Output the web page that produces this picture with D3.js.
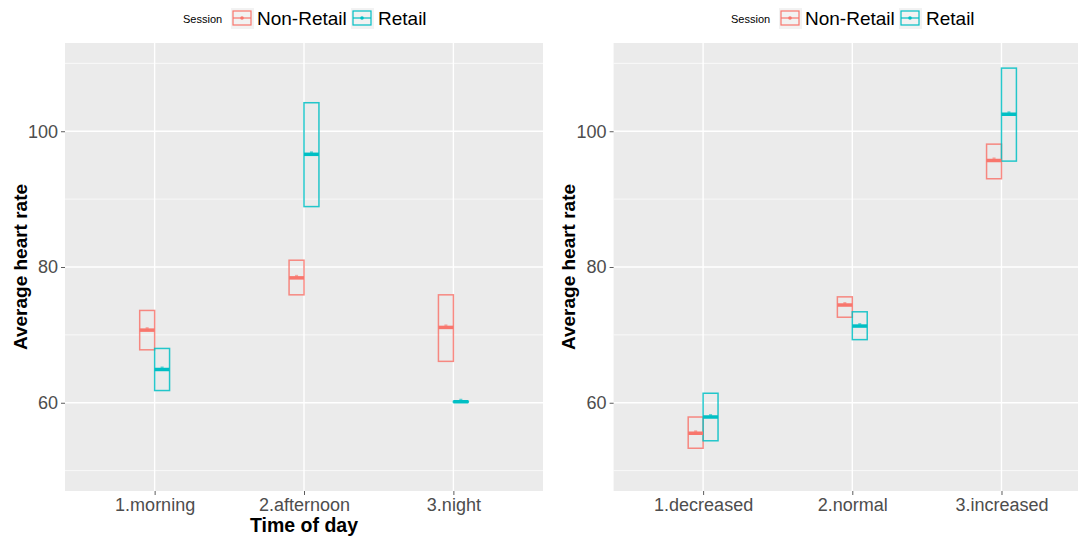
<!DOCTYPE html>
<html>
<head>
<meta charset="utf-8">
<script src="https://cdn.jsdelivr.net/npm/d3@7"></script>
<style>
  html, body { margin: 0; padding: 0; background: #fff; }
  svg { display: block; font-family: "Liberation Sans", Arial, sans-serif; }
</style>
</head>
<body>
<svg id="chart" width="1078" height="539"></svg>
<script>
// ---- data: mean heart rate with lower/upper interval per group ----
const sessions = ["Non-Retail", "Retail"];
const sessionColors = ["#F8766D", "#00BFC4"];

const periods = ["1.morning", "2.afternoon", "3.night"];
const periodNonRetailMean  = [70.7, 78.4, 71.1];
const periodNonRetailLower = [67.8, 75.9, 66.1];
const periodNonRetailUpper = [73.6, 81.0, 75.9];
const periodRetailMean     = [64.9, 96.6, 60.15];
const periodRetailLower    = [61.8, 88.9, 60.1];
const periodRetailUpper    = [68.0, 104.2, 60.2];

const moods = ["1.decreased", "2.normal", "3.increased"];
const moodNonRetailMean  = [55.5, 74.4, 95.7];
const moodNonRetailLower = [53.3, 72.6, 93.0];
const moodNonRetailUpper = [57.9, 75.6, 98.1];
const moodRetailMean     = [57.9, 71.3, 102.5];
const moodRetailLower    = [54.4, 69.3, 95.6];
const moodRetailUpper    = [61.4, 73.4, 109.3];

const yMajorTicks = [60, 80, 100];
const yMinorTicks = [50, 70, 90, 110];
const yLimits = [50, 110];

function rows(cats, means, lowers, uppers, session) {
  return cats.map((c, i) => ({ cat: c, i: i, session: session, mean: means[i], lower: lowers[i], upper: uppers[i] }));
}

const periodData = rows(periods, periodNonRetailMean, periodNonRetailLower, periodNonRetailUpper, 0)
  .concat(rows(periods, periodRetailMean, periodRetailLower, periodRetailUpper, 1));
const moodData = rows(moods, moodNonRetailMean, moodNonRetailLower, moodNonRetailUpper, 0)
  .concat(rows(moods, moodRetailMean, moodRetailLower, moodRetailUpper, 1));

const svg = d3.select("#chart");

function drawPanel(opt) {
  const { left, right, top, bottom, cats, data, xTitle, yTitleX, legendCenter } = opt;
  const g = svg.append("g");

  const span = yLimits[1] - yLimits[0];
  const y = d3.scaleLinear()
    .domain([yLimits[0] - span * 0.05, yLimits[1] + span * 0.05])
    .range([bottom, top]);
  const x = d3.scaleLinear().domain([0.4, cats.length + 0.6]).range([left, right]);

  // panel background
  g.append("rect").attr("x", left).attr("y", top)
    .attr("width", right - left).attr("height", bottom - top).attr("fill", "#EBEBEB");

  // grid
  g.selectAll(".minor").data(yMinorTicks).join("line")
    .attr("x1", left).attr("x2", right)
    .attr("y1", d => y(d)).attr("y2", d => y(d))
    .attr("stroke", "#fff").attr("stroke-width", 0.7);
  g.selectAll(".major").data(yMajorTicks).join("line")
    .attr("x1", left).attr("x2", right)
    .attr("y1", d => y(d)).attr("y2", d => y(d))
    .attr("stroke", "#fff").attr("stroke-width", 1.4);
  g.selectAll(".vmajor").data(cats).join("line")
    .attr("x1", (d, i) => x(i + 1)).attr("x2", (d, i) => x(i + 1))
    .attr("y1", top).attr("y2", bottom)
    .attr("stroke", "#fff").attr("stroke-width", 1.4);

  // y axis
  const yAxis = d3.axisLeft(y).tickValues(yMajorTicks).tickSize(4).tickPadding(3);
  const ya = g.append("g").attr("transform", `translate(${left},0)`).call(yAxis);
  ya.select(".domain").remove();
  ya.selectAll(".tick line").attr("stroke", "#333").attr("stroke-width", 0.8);
  ya.selectAll(".tick text").attr("fill", "#4D4D4D").style("font-size", "18px");

  // x axis
  const xAxis = d3.axisBottom(x).tickValues(cats.map((c, i) => i + 1))
    .tickFormat((d) => cats[d - 1]).tickSize(4).tickPadding(3);
  const xa = g.append("g").attr("transform", `translate(0,${bottom})`).call(xAxis);
  xa.select(".domain").remove();
  xa.selectAll(".tick line").attr("stroke", "#333").attr("stroke-width", 0.8);
  xa.selectAll(".tick text").attr("fill", "#4D4D4D").style("font-size", "18px");

  // crossbars
  const half = 0.05;
  const clip = "clip-" + Math.round(left);
  svg.append("clipPath").attr("id", clip).append("rect")
    .attr("x", left).attr("y", top).attr("width", right - left).attr("height", bottom - top);
  const marks = g.append("g").attr("clip-path", `url(#${clip})`);
  const cx = d => x(d.i + 1) + (d.session === 0 ? -half : half) * (x(1) - x(0));
  const hw = half * (x(1) - x(0));

  marks.selectAll(".box").data(data).join("rect")
    .attr("x", d => cx(d) - hw).attr("width", hw * 2)
    .attr("y", d => y(d.upper)).attr("height", d => Math.max(0, y(d.lower) - y(d.upper)))
    .attr("fill", "none").attr("stroke", d => sessionColors[d.session]).attr("stroke-width", 1.5)
    .attr("stroke-opacity", 0.85);
  marks.selectAll(".mid").data(data).join("line")
    .attr("x1", d => cx(d) - hw).attr("x2", d => cx(d) + hw)
    .attr("y1", d => y(d.mean)).attr("y2", d => y(d.mean))
    .attr("stroke", d => sessionColors[d.session]).attr("stroke-width", 3.5);
  marks.selectAll(".pt").data(data).join("rect")
    .attr("x", d => cx(d) - 1.5).attr("width", 3)
    .attr("y", d => y(d.mean) - 3).attr("height", 3)
    .attr("fill", d => sessionColors[d.session]).attr("opacity", 0.6);

  // axis titles
  g.append("text")
    .attr("transform", `translate(${yTitleX},${(top + bottom) / 2}) rotate(-90)`)
    .attr("text-anchor", "middle").attr("font-weight", "bold").style("font-size", "19px")
    .attr("fill", "#000").text("Average heart rate");
  if (xTitle) {
    g.append("text").attr("x", (left + right) / 2).attr("y", 532)
      .attr("text-anchor", "middle").attr("font-weight", "bold").style("font-size", "19.5px")
      .attr("fill", "#000").text(xTitle);
  }

  // legend
  const lg = g.append("g").attr("transform", `translate(${legendCenter - 122},0)`);
  lg.append("text").attr("x", 0).attr("y", 23).style("font-size", "11px").attr("fill", "#000").text("Session");
  const keyX = [48, 168];
  const labX = [74, 195];
  sessions.forEach((s, k) => {
    const kx = keyX[k];
    lg.append("rect").attr("x", kx).attr("y", 8).attr("width", 23).attr("height", 21).attr("fill", "#F2F2F2");
    lg.append("rect").attr("x", kx + 2).attr("y", 11).attr("width", 18).attr("height", 14)
      .attr("fill", "none").attr("stroke", sessionColors[k]).attr("stroke-width", 1.2);
    lg.append("line").attr("x1", kx + 2).attr("x2", kx + 20).attr("y1", 18).attr("y2", 18)
      .attr("stroke", sessionColors[k]).attr("stroke-width", 1.2);
    lg.append("circle").attr("cx", kx + 11).attr("cy", 18).attr("r", 1.8).attr("fill", sessionColors[k]);
    lg.append("text").attr("x", labX[k]).attr("y", 25).style("font-size", "19px").attr("fill", "#000").text(s);
  });
}

drawPanel({ left: 65, right: 543, top: 43, bottom: 491, cats: periods, data: periodData,
  xTitle: "Time of day", yTitleX: 27, legendCenter: 305 });
drawPanel({ left: 613.6, right: 1091, top: 43, bottom: 491, cats: moods, data: moodData,
  xTitle: null, yTitleX: 575, legendCenter: 853 });
</script>
</body>
</html>
